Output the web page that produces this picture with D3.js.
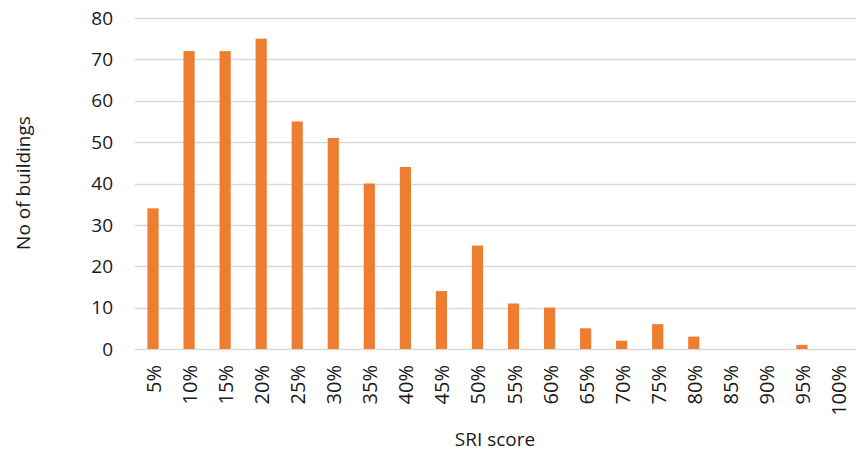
<!DOCTYPE html>
<html>
<head>
<meta charset="utf-8">
<script src="https://cdn.jsdelivr.net/npm/d3@7"></script>
<style>
  html, body { margin: 0; padding: 0; background: #fff; }
  text { font-family: "Open Sans", "Noto Sans", sans-serif; fill: #1a1a1a; }
</style>
</head>
<body>
<svg id="chart" width="856" height="453"></svg>
<script>
// SRI score bins and building counts
const categories = ["5%", "10%", "15%", "20%", "25%", "30%", "35%", "40%", "45%", "50%",
                    "55%", "60%", "65%", "70%", "75%", "80%", "85%", "90%", "95%", "100%"];
const buildings = [34, 72, 72, 75, 55, 51, 40, 44, 14, 25, 11, 10, 5, 2, 6, 3, 0, 0, 1, 0];
const yTicks = [0, 10, 20, 30, 40, 50, 60, 70, 80];

const svg = d3.select("#chart");
const plot = { left: 135, right: 856, top: 18, bottom: 349 };

const x = d3.scaleBand()
  .domain(categories)
  .range([plot.left, plot.right])
  .paddingInner(0.69)
  .paddingOuter(0.345);

const y = d3.scaleLinear()
  .domain([0, 80])
  .range([plot.bottom, plot.top]);

// horizontal gridlines
svg.append("g")
  .selectAll("line")
  .data(yTicks)
  .join("line")
  .attr("x1", plot.left)
  .attr("x2", plot.right)
  .attr("y1", d => Math.round(y(d)) + 0.5)
  .attr("y2", d => Math.round(y(d)) + 0.5)
  .attr("stroke", "#d9d9d9")
  .attr("stroke-width", 1.5);

// y tick labels
svg.append("g")
  .selectAll("text")
  .data(yTicks)
  .join("text")
  .attr("x", 113)
  .attr("y", d => y(d))
  .attr("dy", "0.35em")
  .attr("text-anchor", "end")
  .style("font-size", "19px")
  .text(d => d);

// bars
svg.append("g")
  .selectAll("rect")
  .data(categories.map((c, i) => ({ c, v: buildings[i] })))
  .join("rect")
  .attr("x", d => x(d.c))
  .attr("width", x.bandwidth())
  .attr("y", d => y(d.v))
  .attr("height", d => y(0) - y(d.v))
  .attr("fill", "#ed7d31");

// rotated category labels
svg.append("g")
  .selectAll("text")
  .data(categories)
  .join("text")
  .attr("transform", d => `translate(${x(d) + x.bandwidth() / 2 + 1},365) rotate(-90)`)
  .attr("text-anchor", "end")
  .attr("dy", "0.35em")
  .style("font-size", "20px")
  .text(d => d);

// axis titles
svg.append("text")
  .attr("x", 495)
  .attr("y", 446)
  .attr("text-anchor", "middle")
  .style("font-size", "19px")
  .text("SRI score");

svg.append("text")
  .attr("transform", "translate(30,183) rotate(-90)")
  .attr("text-anchor", "middle")
  .style("font-size", "19px")
  .text("No of buildings");
</script>
</body>
</html>
